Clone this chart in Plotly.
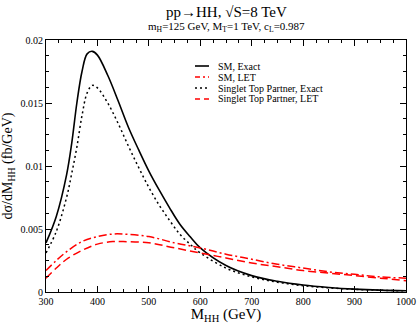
import plotly.graph_objects as go

# M_HH grid (GeV) and curves
m_exact = [300, 320, 340, 350, 360, 370, 380, 390, 400, 420, 440, 460, 480, 500,
           520, 540, 560, 580, 600, 650, 700, 750, 800, 850, 900, 950, 1000]
sm_exact = [0.0039, 0.0060, 0.0093, 0.0118, 0.0150, 0.0175, 0.0189, 0.0191, 0.0188,
            0.0172, 0.0152, 0.0131, 0.0113, 0.0096, 0.0081, 0.0067, 0.0054, 0.0044,
            0.0035, 0.0021, 0.0013, 0.00085, 0.00055, 0.00036, 0.00023, 0.00015, 0.0001]
stp_exact = [0.0031, 0.0048, 0.0075, 0.0094, 0.0115, 0.0140, 0.0158, 0.0164, 0.0162,
             0.0150, 0.0134, 0.0116, 0.0099, 0.0083, 0.0069, 0.0057, 0.0046, 0.0038,
             0.0031, 0.0019, 0.0012, 0.00078, 0.0005, 0.00033, 0.00021, 0.00014, 0.00009]

m_let = [300, 320, 340, 370, 400, 430, 450, 500, 550, 600, 650, 700, 750, 800,
         850, 900, 950, 1000]
sm_let = [0.0017, 0.0025, 0.0032, 0.0040, 0.0044, 0.0046, 0.0046, 0.0044, 0.0039,
          0.0035, 0.0030, 0.0026, 0.0022, 0.0019, 0.0016, 0.0014, 0.0012, 0.0011]
stp_let = [0.0011, 0.0019, 0.0026, 0.0033, 0.0038, 0.0040, 0.0040, 0.0039, 0.0035,
           0.0031, 0.0027, 0.0023, 0.0020, 0.0017, 0.0015, 0.0013, 0.0011, 0.0009]

FONT = "Liberation Serif, Times New Roman, serif"

series = [
    ("SM, Exact", m_exact, sm_exact, dict(color="black", width=1.6)),
    ("SM, LET", m_let, sm_let, dict(color="red", width=1.5, dash="8px,3px,2px,3px")),
    ("Singlet Top Partner, Exact", m_exact, stp_exact, dict(color="black", width=1.5, dash="2px,3px")),
    ("Singlet Top Partner, LET", m_let, stp_let, dict(color="red", width=1.5, dash="8px,4px")),
]

fig = go.Figure()
for name, xs, ys, ln in series:
    fig.add_trace(go.Scatter(x=xs, y=ys, mode="lines", name=name,
                             line=dict(shape="spline", **ln), showlegend=False))

# legend drawn by hand: plotly's rows are too tall for this compact key
W, H = 418, 324
L, R, T, B = 46, 12, 40, 32
pw, ph = W - L - R, H - T - B
row_y = [66, 77, 88, 99]
for (name, xs, ys, ln), py in zip(series, row_y):
    yp = (H - B - py) / ph
    fig.add_shape(type="line", xref="paper", yref="paper",
                  x0=(195 - L) / pw, x1=(209 - L) / pw, y0=yp, y1=yp,
                  line=dict(color=ln["color"], width=ln["width"],
                            dash=ln.get("dash", "solid").replace("8px", "5px")))
    fig.add_annotation(text=name, xref="paper", yref="paper", x=(216 - L) / pw, y=yp,
                       xanchor="left", yanchor="middle", showarrow=False,
                       font=dict(family=FONT, size=10, color="black"))

axis_common = dict(
    showgrid=False, zeroline=False, showline=True, linecolor="black", linewidth=1,
    mirror="allticks", ticks="inside", ticklen=6, tickcolor="black", automargin=False,
    tickfont=dict(family=FONT, size=10, color="black"),
)

fig.update_xaxes(
    range=[300, 1000], dtick=100, tick0=300,
    minor=dict(dtick=25, ticks="inside", ticklen=3, tickcolor="black"),
    title=dict(text="M<sub>HH</sub> (GeV)", font=dict(family=FONT, size=15, color="black"),
               standoff=2),
    **axis_common,
)
fig.update_yaxes(
    range=[0, 0.02], dtick=0.005, tick0=0,
    minor=dict(dtick=0.00125, ticks="inside", ticklen=3, tickcolor="black"),
    title=dict(text="dσ/dM<sub>HH</sub> (fb/GeV)", font=dict(family=FONT, size=14, color="black"),
               standoff=4),
    **axis_common,
)

fig.add_annotation(text="pp→HH, √S=8 TeV", xref="paper", yref="paper",
                   x=0.5, y=1.0, yshift=28, showarrow=False, yanchor="middle",
                   font=dict(family=FONT, size=15, color="black"))
fig.add_annotation(text="m<sub>H</sub>=125 GeV, M<sub>T</sub>=1 TeV, c<sub>L</sub>=0.987",
                   xref="paper", yref="paper", x=0.5, y=1.0, yshift=13, showarrow=False,
                   yanchor="middle", font=dict(family=FONT, size=11, color="black"))

fig.update_layout(
    width=W, height=H,
    margin=dict(l=L, r=R, t=T, b=B),
    paper_bgcolor="white", plot_bgcolor="white",
    font=dict(family=FONT, color="black"),
    showlegend=False,
)

fig.write_html("out.html", config={"displayModeBar": False},
               post_script="document.body.style.margin='0';")
